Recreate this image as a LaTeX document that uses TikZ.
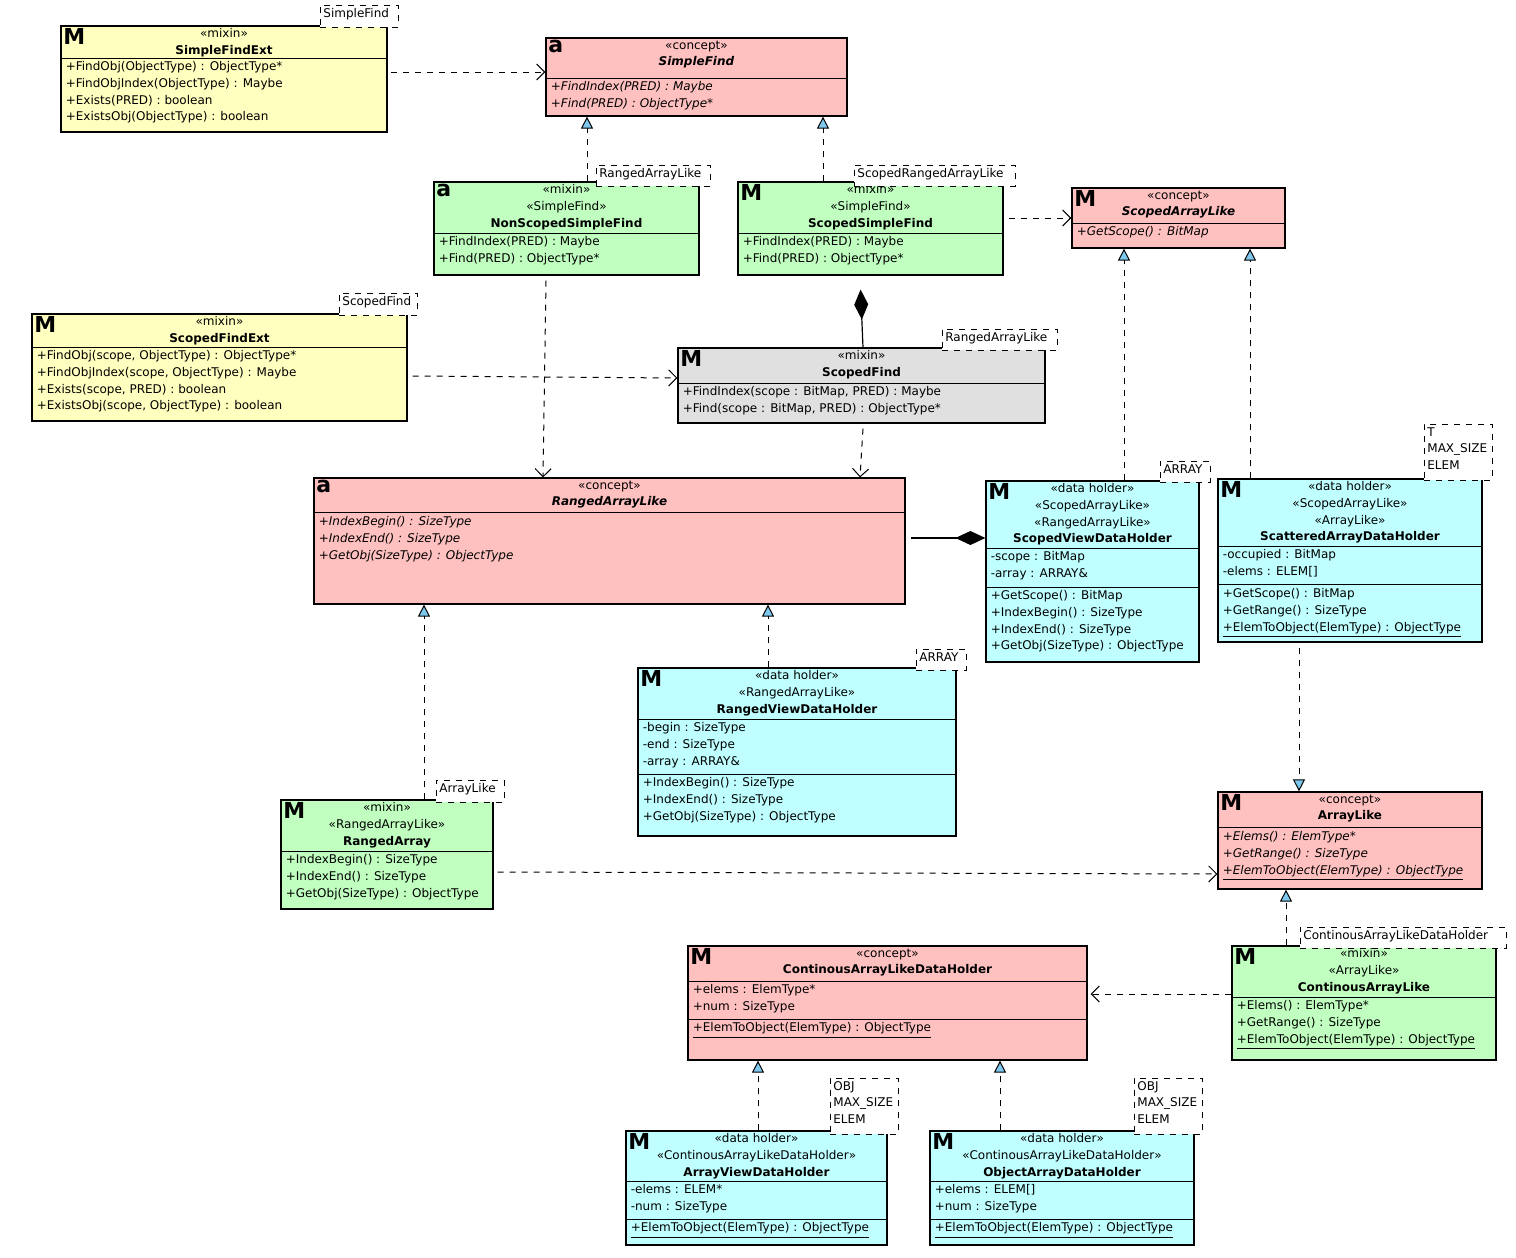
\documentclass[tikz,border=0pt]{standalone}
\usepackage{fontspec}
\setmainfont{DejaVu Sans}
\usetikzlibrary{arrows.meta,fit}
\definecolor{cy}{HTML}{FFFFC0}
\definecolor{cr}{HTML}{FFC0C0}
\definecolor{cg}{HTML}{C0FFC0}
\definecolor{cc}{HTML}{C0FFFF}
\definecolor{cgr}{HTML}{E0E0E0}
\definecolor{tri}{HTML}{7EC8EE}
\newcommand\cls[9]{%
 \node[box, fill=#2, fit={(#3,#4)(#5,#6)}] (#1) {};
 \node[icon, anchor=north west] (#1-i) at (#3,#4) {#7};
 \node[txt, anchor=north, align=center] (#1-h) at ({(#3+#5)/2},#4) {#9};
 \draw (#3,#8) -- (#5,#8);}
\newcommand\sect[3]{\node[txt, anchor=north west, align=left] at (#1+2,#2) {#3};}
\newcommand\tmpl[6]{\node[tbox, fit={(#2,#3)(#4,#5)}] (#1) {};
 \node[txt, anchor=north west, align=left, inner sep=1.5pt] at (#2,#3) {#6};}
\tikzset{
 txt/.style={font=\fontsize{6}{8.3}\selectfont, inner sep=1.2pt},
 box/.style={draw, line width=0.6pt, inner sep=0pt},
 tbox/.style={draw, dashed, fill=white, inner sep=0pt, line width=0.5pt},
 icon/.style={font=\fontsize{11}{11}\selectfont\bfseries, inner sep=1pt},
 dep/.style={dashed, line width=0.5pt, -{Straight Barb[length=4pt,width=8pt]}},
 real/.style={dashed, line width=0.5pt, -{Triangle[length=6pt,width=6pt,fill=tri]}},
 comp/.style={line width=0.6pt, {Diamond[length=15pt,width=7pt]}-},
}
\begin{document}
\begin{tikzpicture}[x=0.5pt,y=-0.5pt]
\useasboundingbox (0,0) rectangle (1516,1258);
% SimpleFindExt
\cls{sfe}{cy}{61}{26}{387}{132}{M}{58}{<<mixin>>\\\textbf{SimpleFindExt}}
\sect{61}{59}{+FindObj(ObjectType) : ObjectType*\\+FindObjIndex(ObjectType) : Maybe\\+Exists(PRED) : boolean\\+ExistsObj(ObjectType) : boolean}
\tmpl{sfe-t}{320}{5}{398}{27}{SimpleFind}
% SimpleFind
\cls{sf}{cr}{546}{38}{847}{116}{a}{78}{<<concept>>\\\textbf{\textit{SimpleFind}}}
\sect{546}{79}{\textit{+FindIndex(PRED) : Maybe}\\\textit{+Find(PRED) : ObjectType*}}
% NonScopedSimpleFind
\cls{nsf}{cg}{434}{182}{699}{275}{a}{233}{<<mixin>>\\<<SimpleFind>>\\\textbf{NonScopedSimpleFind}}
\sect{434}{234}{+FindIndex(PRED) : Maybe\\+Find(PRED) : ObjectType*}
\tmpl{nsf-t}{596}{165}{710}{186}{RangedArrayLike}
% ScopedSimpleFind
\cls{ssf}{cg}{738}{182}{1003}{275}{M}{233}{<<mixin>>\\<<SimpleFind>>\\\textbf{ScopedSimpleFind}}
\sect{738}{234}{+FindIndex(PRED) : Maybe\\+Find(PRED) : ObjectType*}
\tmpl{ssf-t}{854}{165}{1015}{186}{ScopedRangedArrayLike}
% ScopedArrayLike
\cls{sal}{cr}{1072}{188}{1285}{248}{M}{223}{<<concept>>\\\textbf{\textit{ScopedArrayLike}}}
\sect{1072}{224}{\textit{+GetScope() : BitMap}}
% ScopedFindExt
\cls{sfx}{cy}{32}{314}{407}{421}{M}{347}{<<mixin>>\\\textbf{ScopedFindExt}}
\sect{32}{348}{+FindObj(scope, ObjectType) : ObjectType*\\+FindObjIndex(scope, ObjectType) : Maybe\\+Exists(scope, PRED) : boolean\\+ExistsObj(scope, ObjectType) : boolean}
\tmpl{sfx-t}{339}{293}{417}{315}{ScopedFind}
% ScopedFind
\cls{scf}{cgr}{678}{348}{1045}{423}{M}{383}{<<mixin>>\\\textbf{ScopedFind}}
\sect{678}{384}{+FindIndex(scope : BitMap, PRED) : Maybe\\+Find(scope : BitMap, PRED) : ObjectType*}
\tmpl{scf-t}{942}{329}{1057}{350}{RangedArrayLike}
% RangedArrayLike
\cls{ral}{cr}{314}{478}{905}{604}{a}{512}{<<concept>>\\\textbf{\textit{RangedArrayLike}}}
\sect{314}{514}{\textit{+IndexBegin() : SizeType}\\\textit{+IndexEnd() : SizeType}\\\textit{+GetObj(SizeType) : ObjectType}}
% ScopedViewDataHolder
\cls{svd}{cc}{986}{481}{1199}{662}{M}{548}{<<data holder>>\\<<ScopedArrayLike>>\\<<RangedArrayLike>>\\\textbf{ScopedViewDataHolder}}
\sect{986}{549}{-scope : BitMap\\-array : ARRAY\&}
\draw (986,587) -- (1199,587);
\sect{986}{588}{+GetScope() : BitMap\\+IndexBegin() : SizeType\\+IndexEnd() : SizeType\\+GetObj(SizeType) : ObjectType}
\tmpl{svd-t}{1160}{461}{1210}{482}{ARRAY}
% ScatteredArrayDataHolder
\cls{sad}{cc}{1218}{479}{1482}{642}{M}{546}{<<data holder>>\\<<ScopedArrayLike>>\\<<ArrayLike>>\\\textbf{ScatteredArrayDataHolder}}
\sect{1218}{547}{-occupied : BitMap\\-elems : ELEM[]}
\draw (1218,584) -- (1482,584);
\sect{1218}{586}{+GetScope() : BitMap\\+GetRange() : SizeType\\\underline{+ElemToObject(ElemType) : ObjectType}}
\tmpl{sad-t}{1424}{424}{1492}{480}{T\\MAX\_SIZE\\ELEM}
% RangedViewDataHolder
\cls{rvd}{cc}{638}{668}{956}{836}{M}{719}{<<data holder>>\\<<RangedArrayLike>>\\\textbf{RangedViewDataHolder}}
\sect{638}{720}{-begin : SizeType\\-end : SizeType\\-array : ARRAY\&}
\draw (638,774) -- (956,774);
\sect{638}{775}{+IndexBegin() : SizeType\\+IndexEnd() : SizeType\\+GetObj(SizeType) : ObjectType}
\tmpl{rvd-t}{916}{649}{966}{670}{ARRAY}
% RangedArray
\cls{ra}{cg}{281}{800}{493}{909}{M}{851}{<<mixin>>\\<<RangedArrayLike>>\\\textbf{RangedArray}}
\sect{281}{852}{+IndexBegin() : SizeType\\+IndexEnd() : SizeType\\+GetObj(SizeType) : ObjectType}
\tmpl{ra-t}{436}{780}{504}{802}{ArrayLike}
% ArrayLike
\cls{al}{cr}{1218}{792}{1482}{889}{M}{827}{<<concept>>\\\textbf{ArrayLike}}
\sect{1218}{829}{\textit{+Elems() : ElemType*}\\\textit{+GetRange() : SizeType}\\\underline{\textit{+ElemToObject(ElemType) : ObjectType}}}
% ContinousArrayLikeDataHolder
\cls{cdh}{cr}{688}{946}{1087}{1060}{M}{981}{<<concept>>\\\textbf{ContinousArrayLikeDataHolder}}
\sect{688}{982}{+elems : ElemType*\\+num : SizeType}
\draw (688,1019) -- (1087,1019);
\sect{688}{1020}{\underline{+ElemToObject(ElemType) : ObjectType}}
% ContinousArrayLike
\cls{cal}{cg}{1232}{946}{1496}{1060}{M}{997}{<<mixin>>\\<<ArrayLike>>\\\textbf{ContinousArrayLike}}
\sect{1232}{998}{+Elems() : ElemType*\\+GetRange() : SizeType\\\underline{+ElemToObject(ElemType) : ObjectType}}
\tmpl{cal-t}{1300}{927}{1506}{948}{ContinousArrayLikeDataHolder}
% ArrayViewDataHolder
\cls{avd}{cc}{626}{1131}{887}{1245}{M}{1181}{<<data holder>>\\<<ContinousArrayLikeDataHolder>>\\\textbf{ArrayViewDataHolder}}
\sect{626}{1182}{-elems : ELEM*\\-num : SizeType}
\draw (626,1219) -- (887,1219);
\sect{626}{1220}{\underline{+ElemToObject(ElemType) : ObjectType}}
\tmpl{avd-t}{830}{1078}{898}{1134}{OBJ\\MAX\_SIZE\\ELEM}
% ObjectArrayDataHolder
\cls{oad}{cc}{930}{1131}{1194}{1245}{M}{1181}{<<data holder>>\\<<ContinousArrayLikeDataHolder>>\\\textbf{ObjectArrayDataHolder}}
\sect{930}{1182}{+elems : ELEM[]\\+num : SizeType}
\draw (930,1219) -- (1194,1219);
\sect{930}{1220}{\underline{+ElemToObject(ElemType) : ObjectType}}
\tmpl{oad-t}{1134}{1078}{1202}{1134}{OBJ\\MAX\_SIZE\\ELEM}
% connectors
\draw[dep] (sfe.east |- 0,72) ++(3,0) -- (sf.west |- 0,72);
\draw[real] (587,0 |- nsf.north) -- (587,0 |- sf.south);
\draw[real] (823,0 |- ssf.north) -- (823,0 |- sf.south);
\draw[dep] (ssf.east |- 0,218) ++(5,0) -- (sal.west |- 0,218);
\draw[comp, shorten <=7pt] (860,0 |- ssf.south) -- (863,0 |- scf.north);
\draw[dep] (sfx.east |- 0,376) ++(5,0) -- (scf.west |- 0,378);
\draw[dep] (546,0 |- nsf.south) ++(0,5) -- (543,0 |- ral.north);
\draw[dep] (863,0 |- scf.south) ++(0,5) -- (860,0 |- ral.north);
\draw[comp] (svd.west |- 0,538) -- ([xshift=2.5pt]ral.east |- 0,538);
\draw[real] (1124,0 |- svd.north) -- (1124,0 |- sal.south);
\draw[real] (1250,0 |- sad.north) -- (1250,0 |- sal.south);
\draw[real] (1299,0 |- sad.south) ++(0,5) -- (1299,0 |- al.north);
\draw[real] (424,0 |- ra.north) -- (424,0 |- ral.south);
\draw[real] (768,0 |- rvd.north) -- (768,0 |- ral.south);
\draw[dep] (ra.east |- 0,872) ++(4,0) -- (al.west |- 0,874);
\draw[real] (1286,0 |- cal.north) -- (1286,0 |- al.south);
\draw[dep] (cal.west |- 0,994) -- ([xshift=1.5pt]cdh.east |- 0,994);
\draw[real] (758,0 |- avd.north) -- (758,0 |- cdh.south);
\draw[real] (1000,0 |- oad.north) -- (1000,0 |- cdh.south);
\end{tikzpicture}
\end{document}
